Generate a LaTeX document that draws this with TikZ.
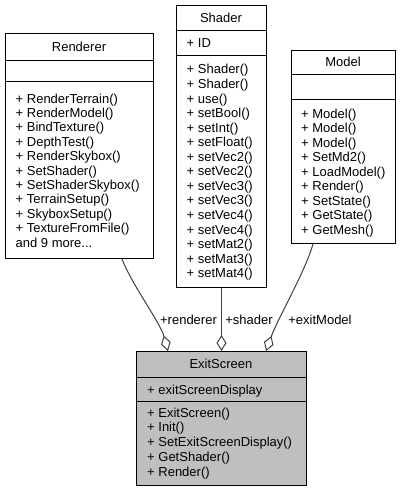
\documentclass[tikz,border=0pt]{standalone}
\usepackage{fontspec}
\setmainfont{Liberation Sans}
\usetikzlibrary{arrows.meta}
\definecolor{edgegray}{HTML}{404040}
\definecolor{rootfill}{HTML}{BFBFBF}
\begin{document}
\begin{tikzpicture}[x=1pt,y=-1pt,
  box/.style={draw=black, line width=1pt, fill=white, inner sep=0pt, anchor=north west},
  rootbox/.style={box, fill=rootfill},
  txt/.style={inner sep=0pt, anchor=base west, font=\fontsize{13}{15}\selectfont},
  ttl/.style={inner sep=0pt, anchor=base, font=\fontsize{13}{15}\selectfont},
  lbl/.style={inner sep=0pt, anchor=base, font=\fontsize{13}{15}\selectfont},
  divider/.style={line width=1pt, draw=black},
  assoc/.style={draw=edgegray, line width=1pt, -{Diamond[length=16pt,width=10pt,fill=white]}}
]
\useasboundingbox (0,0) rectangle (402,492);

% ---------- Renderer ----------
\node[box, minimum width=148pt, minimum height=225pt] (renderer) at (5,33) {};
\draw[divider] (5,61) -- (153,61);
\draw[divider] (5,82) -- (153,82);
\node[ttl] (rT) at (79,52) {Renderer};
\foreach \t [count=\i from 0] in {+ RenderTerrain(),+ RenderModel(),+ BindTexture(),+ DepthTest(),+ RenderSkybox(),+ SetShader(),+ SetShaderSkybox(),+ TerrainSetup(),+ SkyboxSetup(),+ TextureFromFile()}
  \node[txt] (rM\i) at (15.5,{103+14.4*\i}) {\t};
\node[txt] (rMore) at (15.5,{103+14.4*10}) {and 9 more.{}.{}.};

% ---------- Shader ----------
\node[box, minimum width=90pt, minimum height=282pt] (shader) at (176,5) {};
\draw[divider] (176,31) -- (266,31);
\draw[divider] (176,56) -- (266,56);
\node[ttl] (sT) at (221,23) {Shader};
\node[txt] (sA) at (186.5,48) {+ ID};
\foreach \t [count=\i from 0] in {+ Shader(),+ Shader(),+ use(),+ setBool(),+ setInt(),+ setFloat(),+ setVec2(),+ setVec2(),+ setVec3(),+ setVec3(),+ setVec4(),+ setVec4(),+ setMat2(),+ setMat3(),+ setMat4()}
  \node[txt] (sM\i) at (186.5,{74+14.55*\i}) {\t};

% ---------- Model ----------
\node[box, minimum width=104pt, minimum height=193pt] (model) at (291,50) {};
\draw[divider] (291,75) -- (395,75);
\draw[divider] (291,100) -- (395,100);
\node[ttl] (mT) at (343,67) {Model};
\foreach \t [count=\i from 0] in {+ Model(),+ Model(),+ Model(),+ SetMd2(),+ LoadModel(),+ Render(),+ SetState(),+ GetState(),+ GetMesh()}
  \node[txt] (mM\i) at (301,{118+14.5*\i}) {\t};

% ---------- ExitScreen ----------
\node[rootbox, minimum width=170pt, minimum height=134pt] (exit) at (136,351) {};
\draw[divider] (136,377) -- (306,377);
\draw[divider] (136,401) -- (306,401);
\node[ttl] (eT) at (221,368) {ExitScreen};
\node[txt] (eA) at (147,394) {+ exitScreenDisplay};
\foreach \t [count=\i from 0] in {+ ExitScreen(),+ Init(),+ SetExitScreenDisplay(),+ GetShader(),+ Render()}
  \node[txt] (eM\i) at (147,{417+14.8*\i}) {\t};

% ---------- connectors ----------
\coordinate (rS) at ([xshift=117pt]renderer.south west);
\coordinate (eR) at ([xshift=32pt]exit.north west);
\coordinate (sS) at (shader.south);
\coordinate (eS) at (exit.north);
\coordinate (mS) at ([xshift=22pt]model.south west);
\coordinate (eM) at ([xshift=130pt]exit.north west);

\draw[assoc] (rS) .. controls (132,285) and (160,322) .. (eR);
\draw[assoc] (sS) -- (eS);
\draw[assoc] (mS) .. controls (305,272) and (278,318) .. (eM);

\node[lbl] (lR) at (188.5,324) {+renderer};
\node[lbl] (lS) at (249,324) {+shader};
\node[lbl] (lM) at (320,324) {+exitModel};
\end{tikzpicture}
\end{document}
